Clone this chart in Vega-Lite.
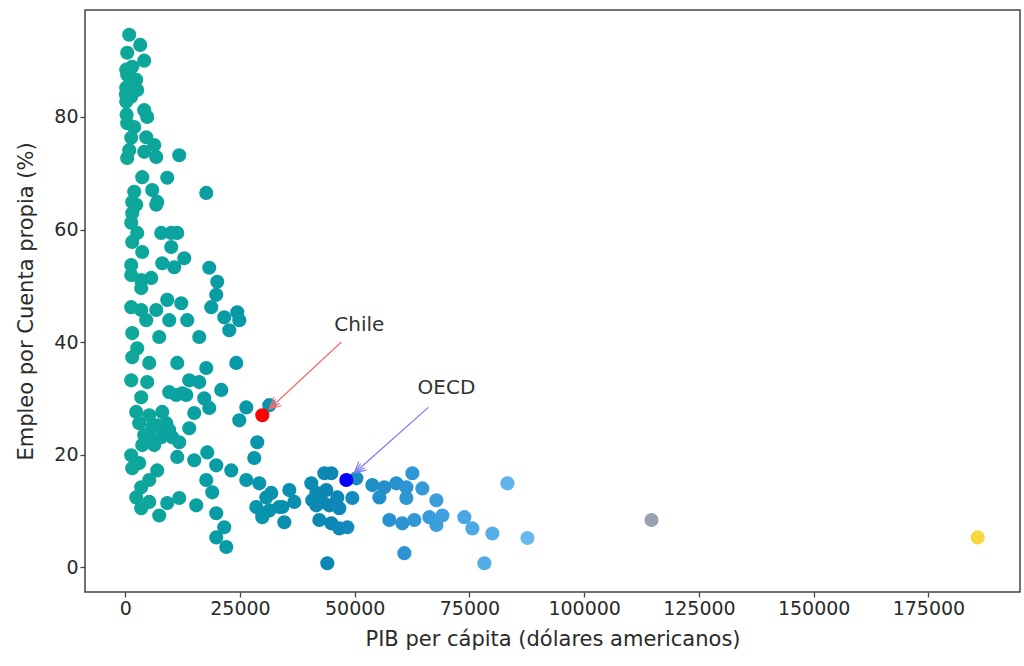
{
  "$schema": "https://vega.github.io/schema/vega-lite/v6.json",
  "autosize": "none",
  "width": 935,
  "height": 582,
  "padding": {"left": 85, "top": 10, "right": 4, "bottom": 74},
  "background": "white",
  "config": {
    "view": {"stroke": "#444444", "strokeWidth": 1.5},
    "font": "DejaVu Sans",
    "axis": {
      "grid": false,
      "domain": false,
      "ticks": true,
      "tickColor": "#444444",
      "tickSize": 5,
      "tickWidth": 1.3,
      "labelFont": "DejaVu Sans",
      "labelFontSize": 19,
      "labelColor": "#2a2a2a",
      "labelPadding": 2,
      "titleFont": "DejaVu Sans",
      "titleFontSize": 21,
      "titleFontWeight": "normal",
      "titleColor": "#2a2a2a"
    }
  },
  "datasets": {
    "paises": [
      {"pib": 872, "cp": 94.6}, {"pib": 3270, "cp": 92.8}, {"pib": 436, "cp": 91.4}, {"pib": 4142, "cp": 90.0},
      {"pib": 1526, "cp": 88.9}, {"pib": 436, "cp": 87.5}, {"pib": 2398, "cp": 86.6}, {"pib": 218, "cp": 85.2},
      {"pib": 1308, "cp": 83.6}, {"pib": 218, "cp": 82.7}, {"pib": 4142, "cp": 81.2}, {"pib": 4796, "cp": 80.0},
      {"pib": 436, "cp": 78.9}, {"pib": 1308, "cp": 76.3}, {"pib": 4578, "cp": 76.4}, {"pib": 6322, "cp": 75.0},
      {"pib": 872, "cp": 74.1}, {"pib": 4142, "cp": 73.8}, {"pib": 6758, "cp": 72.9}, {"pib": 436, "cp": 72.7},
      {"pib": 11772, "cp": 73.2}, {"pib": 3706, "cp": 69.3}, {"pib": 9156, "cp": 69.2}, {"pib": 17658, "cp": 66.5},
      {"pib": 1962, "cp": 66.7}, {"pib": 5886, "cp": 67.0}, {"pib": 1526, "cp": 64.9}, {"pib": 6976, "cp": 64.9},
      {"pib": 1526, "cp": 62.9}, {"pib": 2398, "cp": 64.4}, {"pib": 6758, "cp": 64.4},
      {"pib": 150, "cp": 84.0}, {"pib": 300, "cp": 80.4}, {"pib": 1962, "cp": 78.2}, {"pib": 218, "cp": 88.4}, {"pib": 2616, "cp": 84.8},
      {"pib": 1308, "cp": 61.2}, {"pib": 2616, "cp": 59.4}, {"pib": 1526, "cp": 57.8}, {"pib": 7848, "cp": 59.4},
      {"pib": 10028, "cp": 59.4}, {"pib": 11336, "cp": 59.4}, {"pib": 10028, "cp": 56.9}, {"pib": 3706, "cp": 56.0},
      {"pib": 8066, "cp": 54.0}, {"pib": 10682, "cp": 53.3}, {"pib": 12862, "cp": 54.9}, {"pib": 1308, "cp": 53.7},
      {"pib": 1308, "cp": 51.9}, {"pib": 3488, "cp": 51.0}, {"pib": 5668, "cp": 51.4}, {"pib": 3488, "cp": 49.6},
      {"pib": 18312, "cp": 53.2}, {"pib": 20056, "cp": 50.7}, {"pib": 19838, "cp": 48.4}, {"pib": 18748, "cp": 46.2},
      {"pib": 1308, "cp": 46.2}, {"pib": 3488, "cp": 45.7}, {"pib": 6758, "cp": 45.7}, {"pib": 9156, "cp": 47.5},
      {"pib": 12208, "cp": 46.9}, {"pib": 4578, "cp": 43.9}, {"pib": 9592, "cp": 43.9}, {"pib": 13516, "cp": 43.9},
      {"pib": 21582, "cp": 44.4}, {"pib": 24416, "cp": 45.3}, {"pib": 24852, "cp": 43.9}, {"pib": 22672, "cp": 42.1},
      {"pib": 1526, "cp": 41.6}, {"pib": 7412, "cp": 40.9}, {"pib": 16132, "cp": 40.9}, {"pib": 2616, "cp": 38.9},
      {"pib": 1526, "cp": 37.3}, {"pib": 5232, "cp": 36.3}, {"pib": 11336, "cp": 36.3}, {"pib": 17658, "cp": 35.4},
      {"pib": 24198, "cp": 36.3}, {"pib": 1308, "cp": 33.2}, {"pib": 4796, "cp": 32.9}, {"pib": 13952, "cp": 33.2},
      {"pib": 9592, "cp": 31.1}, {"pib": 12426, "cp": 30.9}, {"pib": 20928, "cp": 31.5}, {"pib": 3488, "cp": 30.2},
      {"pib": 16132, "cp": 32.9}, {"pib": 11118, "cp": 30.6}, {"pib": 13298, "cp": 30.6}, {"pib": 17222, "cp": 30.0},
      {"pib": 26378, "cp": 28.4}, {"pib": 31392, "cp": 28.8}, {"pib": 2398, "cp": 27.6}, {"pib": 8066, "cp": 27.6},
      {"pib": 15042, "cp": 27.4}, {"pib": 18312, "cp": 28.3}, {"pib": 24852, "cp": 26.1}, {"pib": 3052, "cp": 25.6},
      {"pib": 5886, "cp": 24.9}, {"pib": 8938, "cp": 25.6}, {"pib": 13952, "cp": 24.7}, {"pib": 5232, "cp": 23.1},
      {"pib": 7848, "cp": 23.1}, {"pib": 10246, "cp": 23.1}, {"pib": 11772, "cp": 22.2}, {"pib": 28776, "cp": 22.2},
      {"pib": 3706, "cp": 21.7}, {"pib": 1308, "cp": 19.9}, {"pib": 11336, "cp": 19.6}, {"pib": 15042, "cp": 19.0},
      {"pib": 17876, "cp": 20.4}, {"pib": 19838, "cp": 18.1}, {"pib": 23108, "cp": 17.2}, {"pib": 28122, "cp": 19.4},
      {"pib": 3052, "cp": 18.5}, {"pib": 6976, "cp": 17.2}, {"pib": 1526, "cp": 17.6}, {"pib": 5232, "cp": 15.5},
      {"pib": 17658, "cp": 15.5}, {"pib": 26378, "cp": 15.5}, {"pib": 29212, "cp": 14.9}, {"pib": 3488, "cp": 14.2},
      {"pib": 2398, "cp": 12.4}, {"pib": 18966, "cp": 13.3}, {"pib": 5232, "cp": 11.6}, {"pib": 11772, "cp": 12.3},
      {"pib": 9156, "cp": 11.4}, {"pib": 15478, "cp": 11.0}, {"pib": 3488, "cp": 10.5}, {"pib": 19838, "cp": 9.6},
      {"pib": 7412, "cp": 9.2}, {"pib": 28558, "cp": 10.7}, {"pib": 29866, "cp": 9.6}, {"pib": 21582, "cp": 7.1},
      {"pib": 19838, "cp": 5.3}, {"pib": 22018, "cp": 3.6}, {"pib": 35752, "cp": 13.7}, {"pib": 30738, "cp": 12.4},
      {"pib": 31392, "cp": 10.1}, {"pib": 34226, "cp": 10.7}, {"pib": 34662, "cp": 8.0}, {"pib": 29866, "cp": 8.9},
      {"pib": 31828, "cp": 13.2}, {"pib": 36842, "cp": 11.6}, {"pib": 33572, "cp": 10.7},
      {"pib": 5232, "cp": 27.0}, {"pib": 6976, "cp": 25.2}, {"pib": 8502, "cp": 24.0}, {"pib": 4142, "cp": 23.5},
      {"pib": 6322, "cp": 21.7}, {"pib": 9592, "cp": 24.4},
      {"pib": 43382, "cp": 16.7}, {"pib": 44908, "cp": 16.7}, {"pib": 50358, "cp": 15.8}, {"pib": 40548, "cp": 14.9},
      {"pib": 41638, "cp": 13.2}, {"pib": 43818, "cp": 13.7}, {"pib": 40766, "cp": 11.9}, {"pib": 42946, "cp": 11.6},
      {"pib": 46216, "cp": 12.4}, {"pib": 49486, "cp": 12.3}, {"pib": 41638, "cp": 11.0}, {"pib": 44472, "cp": 11.0},
      {"pib": 46652, "cp": 10.5}, {"pib": 42292, "cp": 8.4}, {"pib": 44908, "cp": 7.8}, {"pib": 46652, "cp": 6.9},
      {"pib": 48396, "cp": 7.1}, {"pib": 44036, "cp": 0.7}, {"pib": 53846, "cp": 14.6}, {"pib": 56462, "cp": 14.2},
      {"pib": 59078, "cp": 14.9}, {"pib": 61258, "cp": 14.2}, {"pib": 62566, "cp": 16.7}, {"pib": 55372, "cp": 12.4},
      {"pib": 61258, "cp": 12.3}, {"pib": 64746, "cp": 14.0}, {"pib": 67798, "cp": 11.9}, {"pib": 57552, "cp": 8.4},
      {"pib": 60386, "cp": 7.8}, {"pib": 63002, "cp": 8.4}, {"pib": 66272, "cp": 8.9}, {"pib": 69106, "cp": 9.2},
      {"pib": 67798, "cp": 7.5}, {"pib": 60822, "cp": 2.5}, {"pib": 73902, "cp": 8.9}, {"pib": 75646, "cp": 6.9},
      {"pib": 80006, "cp": 6.0}, {"pib": 87636, "cp": 5.2}, {"pib": 83276, "cp": 14.9}, {"pib": 78262, "cp": 0.7},
      {"pib": 114668, "cp": 8.4}, {"pib": 185736, "cp": 5.3}
    ],
    "destacados": [
      {"nombre": "Chile", "pib": 29866, "cp": 27.0, "tx": 51000, "ty": 43.0, "x0": 47100, "y0": 40.0, "x1": 31400, "y1": 28.1},
      {"nombre": "OECD", "pib": 48178, "cp": 15.5, "tx": 70000, "ty": 31.8, "x0": 66050, "y0": 28.4, "x1": 49900, "y1": 16.7}
    ]
  },
  "encoding": {
    "x": {"field": "pib", "type": "quantitative",
      "scale": {"domain": [-8760, 194960], "nice": false, "zero": false},
      "axis": {"title": "PIB per cápita (dólares americanos)", "values": [0, 25000, 50000, 75000, 100000, 125000, 150000, 175000], "format": "d", "titlePadding": 10}},
    "y": {"field": "cp", "type": "quantitative",
      "scale": {"domain": [-4.4, 99.0], "nice": false, "zero": false},
      "axis": {"title": "Empleo por Cuenta propia (%)", "values": [0, 20, 40, 60, 80], "titlePadding": 17}}
  },
  "layer": [
    {
      "data": {"name": "paises"},
      "mark": {"type": "circle", "size": 200, "opacity": 1},
      "encoding": {
        "color": {"field": "pib", "type": "quantitative", "legend": null,
          "scale": {"type": "linear", "interpolate": "rgb",
            "domain": [0, 15000, 30000, 45000, 60000, 75000, 88000, 115000, 186000],
            "range": ["#0ea899", "#0aa0a2", "#0795ab", "#0c86b5", "#2a93d3", "#4ba8e3", "#6ab9ef", "#9aa2b3", "#f8d840"]}}
      }
    },
    {
      "data": {"name": "destacados"},
      "transform": [{"filter": "datum.nombre === 'Chile'"}],
      "mark": {"type": "rule", "color": "#f07070", "strokeWidth": 1.3},
      "encoding": {"x": {"field": "x0", "type": "quantitative"}, "y": {"field": "y0", "type": "quantitative"}, "x2": {"field": "x1"}, "y2": {"field": "y1"}}
    },
    {
      "data": {"name": "destacados"},
      "transform": [{"filter": "datum.nombre === 'Chile'"}],
      "mark": {"type": "point", "shape": "M -1 -0.5 L 0 0 L -1 0.5 M -1 -0.25 L 0 0 L -1 0.25", "filled": false, "size": 520, "angle": 137, "stroke": "#f07070", "strokeWidth": 1.2, "opacity": 1},
      "encoding": {"x": {"field": "x1", "type": "quantitative"}, "y": {"field": "y1", "type": "quantitative"}}
    },
    {
      "data": {"name": "destacados"},
      "transform": [{"filter": "datum.nombre === 'OECD'"}],
      "mark": {"type": "rule", "color": "#7b7bf5", "strokeWidth": 1.3},
      "encoding": {"x": {"field": "x0", "type": "quantitative"}, "y": {"field": "y0", "type": "quantitative"}, "x2": {"field": "x1"}, "y2": {"field": "y1"}}
    },
    {
      "data": {"name": "destacados"},
      "transform": [{"filter": "datum.nombre === 'OECD'"}],
      "mark": {"type": "point", "shape": "M -1 -0.5 L 0 0 L -1 0.5 M -1 -0.25 L 0 0 L -1 0.25", "filled": false, "size": 520, "angle": 138, "stroke": "#7b7bf5", "strokeWidth": 1.2, "opacity": 1},
      "encoding": {"x": {"field": "x1", "type": "quantitative"}, "y": {"field": "y1", "type": "quantitative"}}
    },
    {
      "data": {"name": "destacados"},
      "transform": [{"filter": "datum.nombre === 'Chile'"}],
      "mark": {"type": "circle", "size": 200, "color": "#ff0000", "opacity": 1}
    },
    {
      "data": {"name": "destacados"},
      "transform": [{"filter": "datum.nombre === 'OECD'"}],
      "mark": {"type": "circle", "size": 200, "color": "#0000ff", "opacity": 1}
    },
    {
      "data": {"name": "destacados"},
      "mark": {"type": "text", "font": "DejaVu Sans", "fontSize": 20, "color": "#333333", "align": "center", "baseline": "middle"},
      "encoding": {"x": {"field": "tx", "type": "quantitative"}, "y": {"field": "ty", "type": "quantitative"}, "text": {"field": "nombre"}}
    }
  ]
}
